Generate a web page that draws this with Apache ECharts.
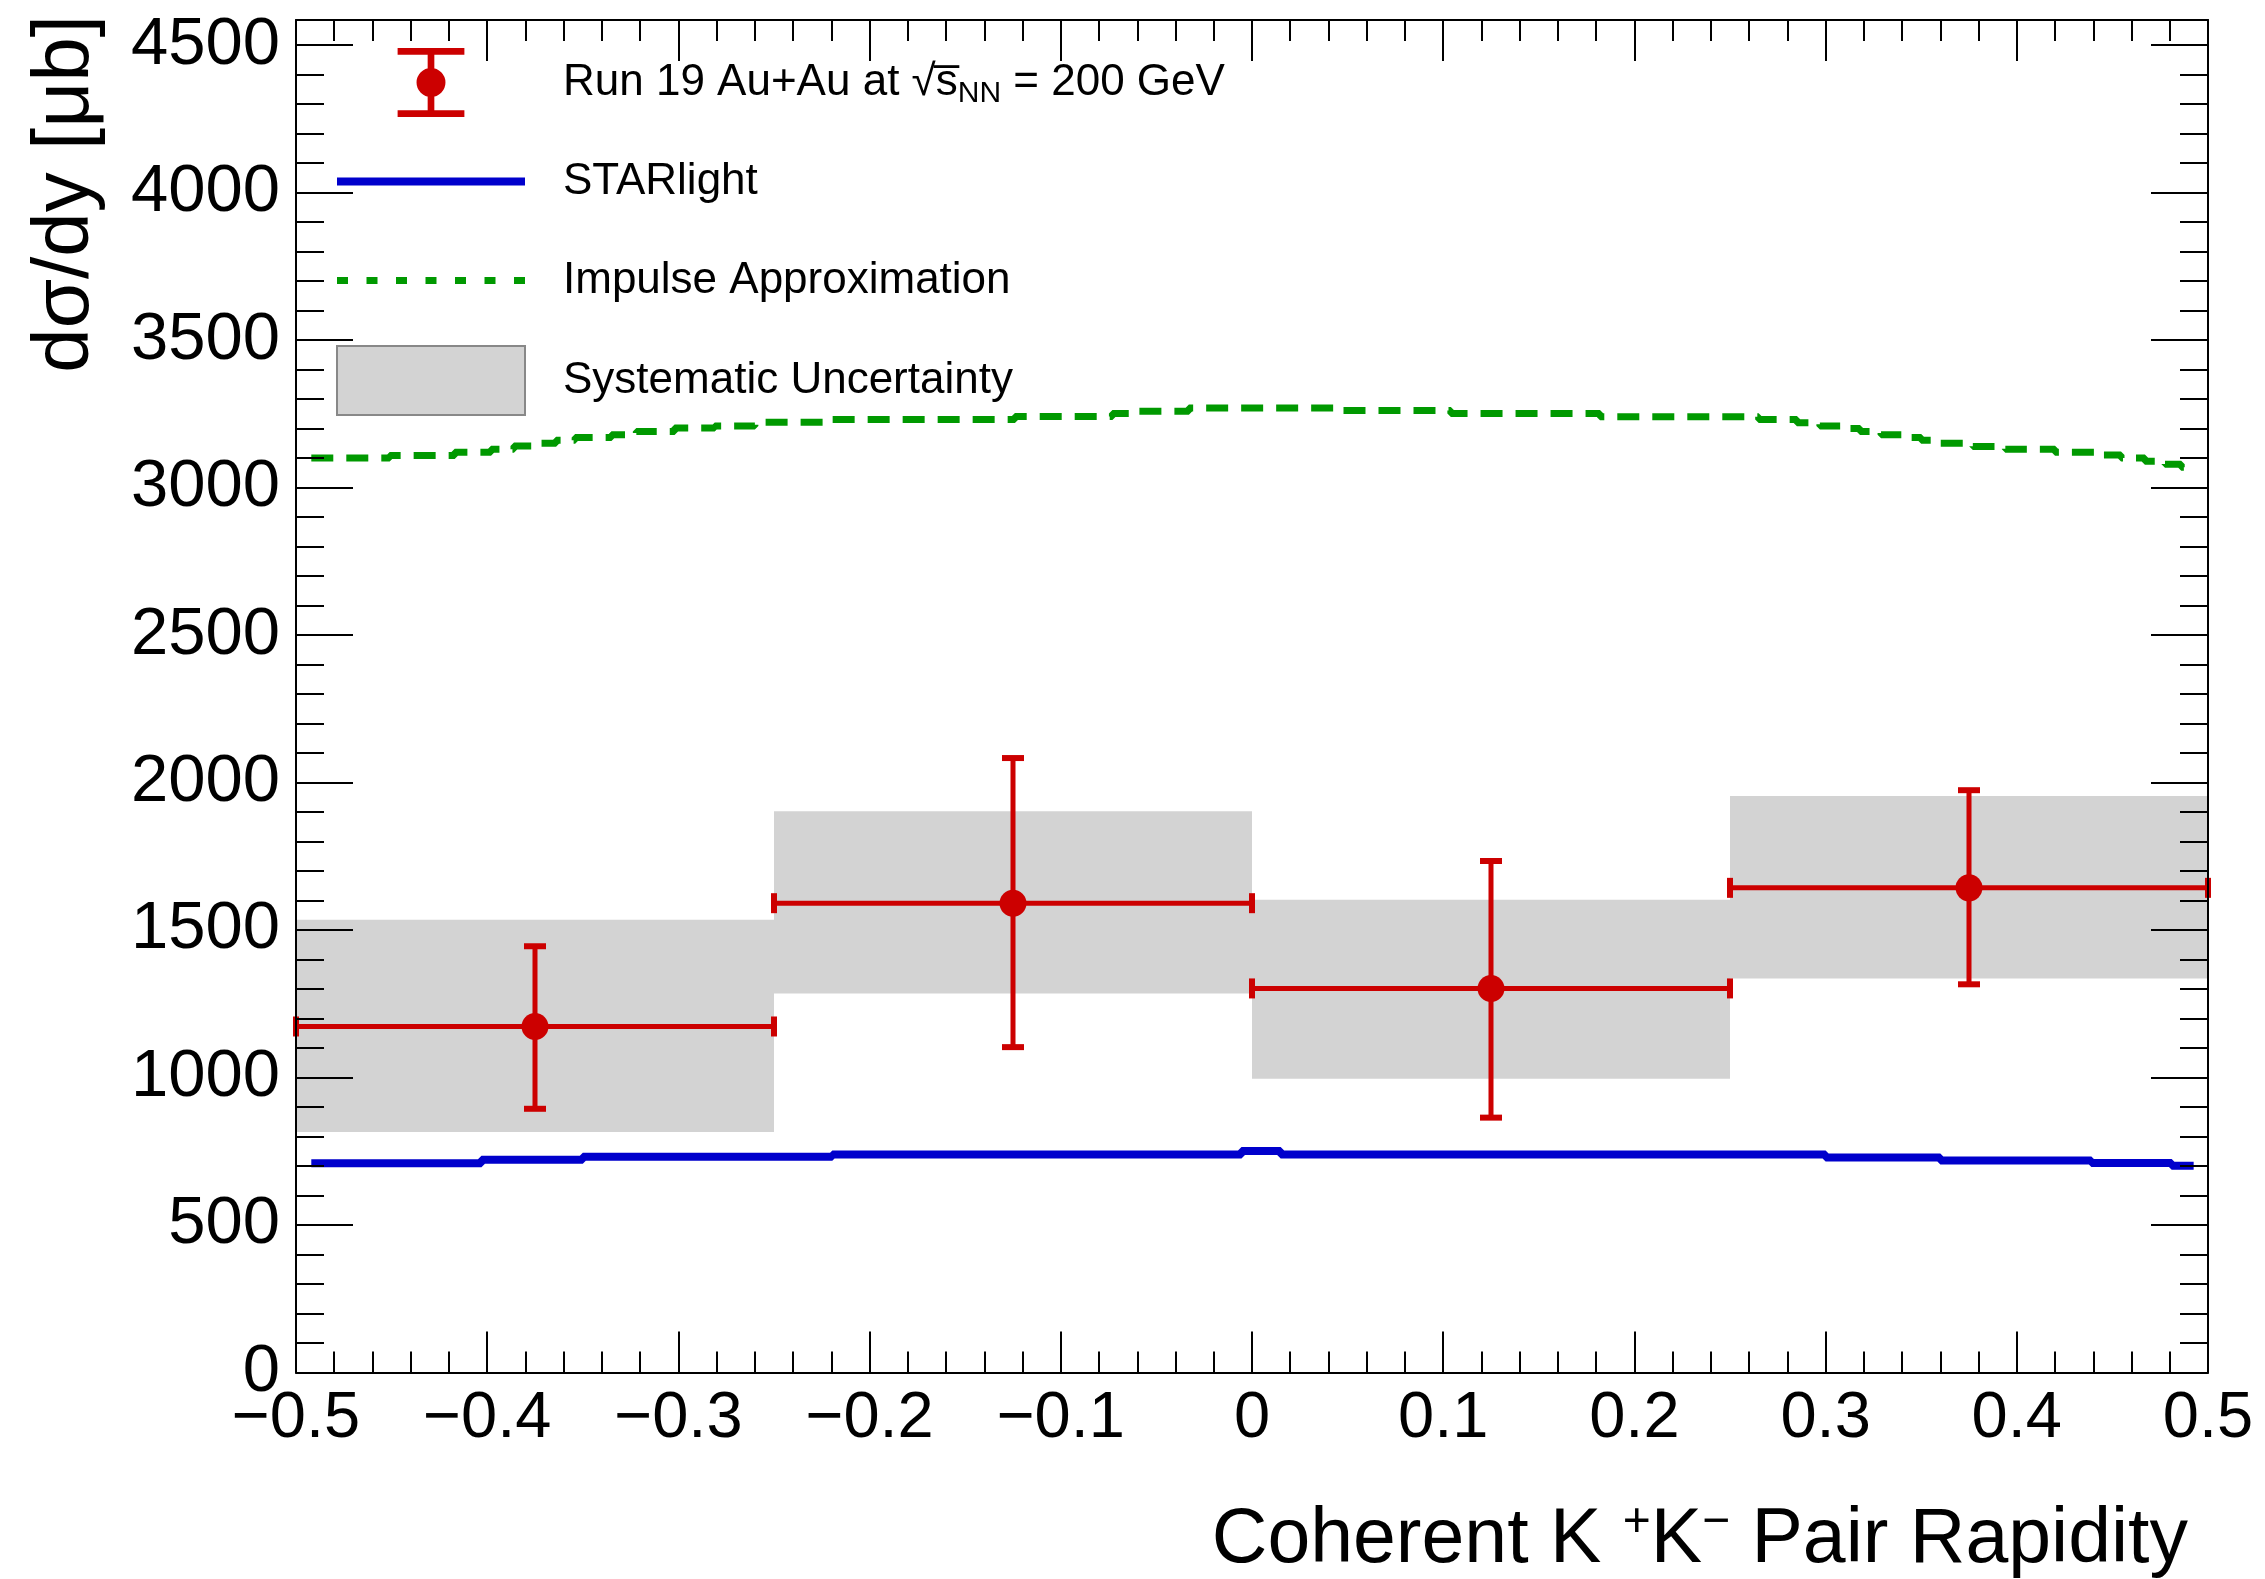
<!DOCTYPE html>
<html>
<head>
<meta charset="utf-8">
<title>Coherent K+K- pair rapidity</title>
<script src="https://cdn.jsdelivr.net/npm/echarts@6/dist/echarts.min.js"></script>
<style>
  html, body { margin: 0; padding: 0; background: #fff; }
  #chart { width: 2265px; height: 1579px; }
</style>
</head>
<body>
<div id="chart"></div>
<script>
  // measured dsigma/dy in four rapidity bins
  const binLow = [-0.5, -0.25, 0, 0.25];
  const binHigh = [-0.25, 0, 0.25, 0.5];
  const binCenter = [-0.375, -0.125, 0.125, 0.375];
  const dsdy = [1173, 1591, 1302, 1643];
  const statLow = [894, 1103, 864, 1316];
  const statHigh = [1445, 2083, 1734, 1974];
  const sysLow = [815, 1285, 996, 1336];
  const sysHigh = [1535, 1903, 1603, 1954];

  // STARlight curve, step edges
  const starlightX = [-0.492, -0.403, -0.350, -0.2195, -0.0055, 0.015, 0.300, 0.360, 0.439, 0.481, 0.4925];
  const starlightY = [709, 721, 731, 739, 751, 739, 729, 719, 710, 701, 701];

  // impulse approximation curve
  const impulseX = [-0.492, -0.451, -0.417, -0.398, -0.386, -0.373, -0.364, -0.354, -0.335, -0.322, -0.302,
    -0.281, -0.260, -0.221, -0.124, -0.073, -0.060, -0.033, 0.046, 0.104, 0.182, 0.265, 0.285, 0.297,
    0.308, 0.318, 0.329, 0.342, 0.350, 0.359, 0.377, 0.394, 0.420, 0.442, 0.4545, 0.467, 0.4775, 0.486, 0.4927];
  const impulseY = [3100, 3109, 3120, 3130, 3141, 3150, 3160, 3170, 3179, 3190, 3202,
    3209, 3221, 3231, 3241, 3251, 3259, 3270, 3261, 3251, 3240, 3231, 3220, 3209,
    3200, 3190, 3179, 3170, 3160, 3150, 3139, 3130, 3120, 3110, 3100, 3089, 3079, 3069, 3069];

  const xMin = -0.5, xMax = 0.5, xStep = 0.1;
  const yMin = 0, yMax = 4585, yStep = 500, yMinorStep = 100;

  const nameData = "Run 19 Au+Au at √sNN = 200 GeV";
  const nameStar = "STARlight";
  const nameIA = "Impulse Approximation";
  const nameSys = "Systematic Uncertainty";

  const red = "#cc0000";
  const blue = "#0000cc";
  const green = "#009900";
  const font = "'Liberation Sans', Arial, Helvetica, sans-serif";

  const chart = echarts.init(document.getElementById("chart"), null, {renderer: "canvas"});

  function minus(v) {
    return v < 0 ? "\u2212" + Math.abs(v) : String(v);
  }

  const frameLine = {show: true, onZero: false, lineStyle: {color: "#000", width: 2}};
  const noLine = {show: false, onZero: false};

  function ticks(len) {
    return {show: true, inside: true, length: len, lineStyle: {color: "#000", width: 2}};
  }

  function frameAxis(extra) {
    return Object.assign({
      type: "value",
      z: 5,
      splitLine: {show: false},
      axisLine: frameLine,
      axisLabel: {show: false}
    }, extra);
  }

  const xBase = {min: xMin, max: xMax, interval: xStep};
  const yBase = {min: yMin, max: yMax};

  const errorBars = binCenter.map((x, i) => [x, dsdy[i], binLow[i], binHigh[i], statLow[i], statHigh[i]]);
  const sysBoxes = binLow.map((lo, i) => [lo, binHigh[i], sysLow[i], sysHigh[i]]);

  const dashIcon = "path://M0,0H11V7H0Z M29.5,0H40.5V7H29.5Z M59,0H70V7H59Z M88.5,0H99.5V7H88.5Z " +
    "M118,0H129V7H118Z M147.5,0H158.5V7H147.5Z M177,0H188V7H177Z";
  const pointIcon = "path://M0,0H60V6H0Z M27,6H33V56H27Z M0,56H60V62H0Z " +
    "M17,31A13,13 0 1,1 43,31A13,13 0 1,1 17,31Z";

  chart.setOption({
    animation: false,
    backgroundColor: "#fff",
    textStyle: {fontFamily: font, color: "#000"},
    grid: {left: 296, top: 20, width: 1912, height: 1360, containLabel: false},
    legend: {
      orient: "vertical",
      left: 336,
      top: 48,
      padding: 0,
      itemWidth: 188,
      itemHeight: 69,
      itemGap: 30,
      selectedMode: false,
      textStyle: {
        fontSize: 44,
        lineHeight: 69,
        color: "#000",
        padding: [0, 0, 0, 33],
        rich: {
          sub: {fontSize: 30, lineHeight: 69, padding: [22, 0, 0, 0]}
        }
      },
      formatter: function (name) {
        if (name === nameData) {
          return "Run 19 Au+Au at √s\u0305{sub|NN} = 200 GeV";
        }
        return name;
      },
      data: [
        {name: nameData, icon: pointIcon, itemStyle: {color: red, borderWidth: 0}},
        {name: nameStar, icon: "path://M0,0H188V8H0Z", itemStyle: {color: blue, borderWidth: 0}},
        {name: nameIA, icon: dashIcon, itemStyle: {color: green, borderWidth: 0}},
        {name: nameSys, icon: "rect", itemStyle: {color: "#d3d3d3", borderColor: "#888", borderWidth: 2}}
      ]
    },
    xAxis: [
      frameAxis(Object.assign({}, xBase, {
        position: "bottom",
        axisTick: ticks(41),
        minorTick: {show: true, splitNumber: 5, length: 21, lineStyle: {color: "#000", width: 2}},
        axisLabel: {show: true, fontSize: 65, color: "#000", margin: 14, formatter: minus},
        name: "Coherent K {sup|+}K{sup|\u2212} Pair Rapidity",
        nameLocation: "end",
        nameGap: -20,
        nameTextStyle: {
          fontSize: 77,
          color: "#000",
          align: "right",
          verticalAlign: "top",
          padding: [126, 0, 0, 0],
          rich: {
            sup: {fontSize: 48, padding: [0, 0, 36, 0]}
          }
        }
      })),
      frameAxis(Object.assign({}, xBase, {
        position: "top",
        axisTick: ticks(41),
        minorTick: {show: true, splitNumber: 5, length: 21, lineStyle: {color: "#000", width: 2}}
      }))
    ],
    yAxis: [
      frameAxis(Object.assign({}, yBase, {
        position: "left",
        interval: yStep,
        axisTick: ticks(57),
        axisLabel: {
          show: true, fontSize: 67, color: "#000", margin: 16,
          formatter: v => (v % yStep === 0 ? String(v) : "")
        },
        name: "dσ/dy [μb]",
        nameLocation: "end",
        nameRotate: 90,
        nameGap: 5,
        nameTextStyle: {
          fontSize: 80,
          color: "#000",
          align: "right",
          verticalAlign: "bottom",
          padding: [0, 0, 190, 0]
        }
      })),
      frameAxis(Object.assign({}, yBase, {
        position: "left",
        interval: yMinorStep,
        axisLine: noLine,
        axisTick: ticks(28)
      })),
      frameAxis(Object.assign({}, yBase, {
        position: "right",
        interval: yStep,
        axisTick: ticks(57)
      })),
      frameAxis(Object.assign({}, yBase, {
        position: "right",
        interval: yMinorStep,
        axisLine: noLine,
        axisTick: ticks(28)
      }))
    ],
    series: [
      {
        name: nameSys,
        type: "custom",
        z: 1,
        data: sysBoxes,
        encode: {x: [0, 1], y: [2, 3]},
        itemStyle: {color: "#d3d3d3"},
        renderItem: function (params, api) {
          const p0 = api.coord([api.value(0), api.value(3)]);
          const p1 = api.coord([api.value(1), api.value(2)]);
          return {
            type: "rect",
            shape: {x: p0[0], y: p0[1], width: p1[0] - p0[0], height: p1[1] - p0[1]},
            style: {fill: "#d3d3d3"}
          };
        }
      },
      {
        name: nameStar,
        type: "line",
        z: 2,
        step: "end",
        showSymbol: false,
        symbol: "none",
        data: starlightX.map((x, i) => [x, starlightY[i]]),
        itemStyle: {color: blue},
        lineStyle: {color: blue, width: 8}
      },
      {
        name: nameIA,
        type: "line",
        z: 2,
        step: "end",
        showSymbol: false,
        symbol: "none",
        data: impulseX.map((x, i) => [x, impulseY[i]]),
        itemStyle: {color: green},
        lineStyle: {color: green, width: 7, type: [22, 13]}
      },
      {
        name: nameData,
        type: "custom",
        z: 4,
        data: errorBars,
        encode: {x: [0, 2, 3], y: [1, 4, 5]},
        itemStyle: {color: red},
        renderItem: function (params, api) {
          const x = api.value(0), y = api.value(1);
          const c = api.coord([x, y]);
          const l = api.coord([api.value(2), y]);
          const r = api.coord([api.value(3), y]);
          const lo = api.coord([x, api.value(4)]);
          const hi = api.coord([x, api.value(5)]);
          const line = {stroke: red, lineWidth: 5};
          const cap = {stroke: red, lineWidth: 6};
          return {
            type: "group",
            children: [
              {type: "line", shape: {x1: l[0], y1: c[1], x2: r[0], y2: c[1]}, style: line},
              {type: "line", shape: {x1: c[0], y1: hi[1], x2: c[0], y2: lo[1]}, style: line},
              {type: "line", shape: {x1: c[0] - 11, y1: hi[1], x2: c[0] + 11, y2: hi[1]}, style: cap},
              {type: "line", shape: {x1: c[0] - 11, y1: lo[1], x2: c[0] + 11, y2: lo[1]}, style: cap},
              {type: "line", shape: {x1: l[0], y1: c[1] - 10, x2: l[0], y2: c[1] + 10}, style: cap},
              {type: "line", shape: {x1: r[0], y1: c[1] - 10, x2: r[0], y2: c[1] + 10}, style: cap},
              {type: "circle", shape: {cx: c[0], cy: c[1], r: 13.5}, style: {fill: red}}
            ]
          };
        }
      }
    ]
  });
</script>
</body>
</html>
